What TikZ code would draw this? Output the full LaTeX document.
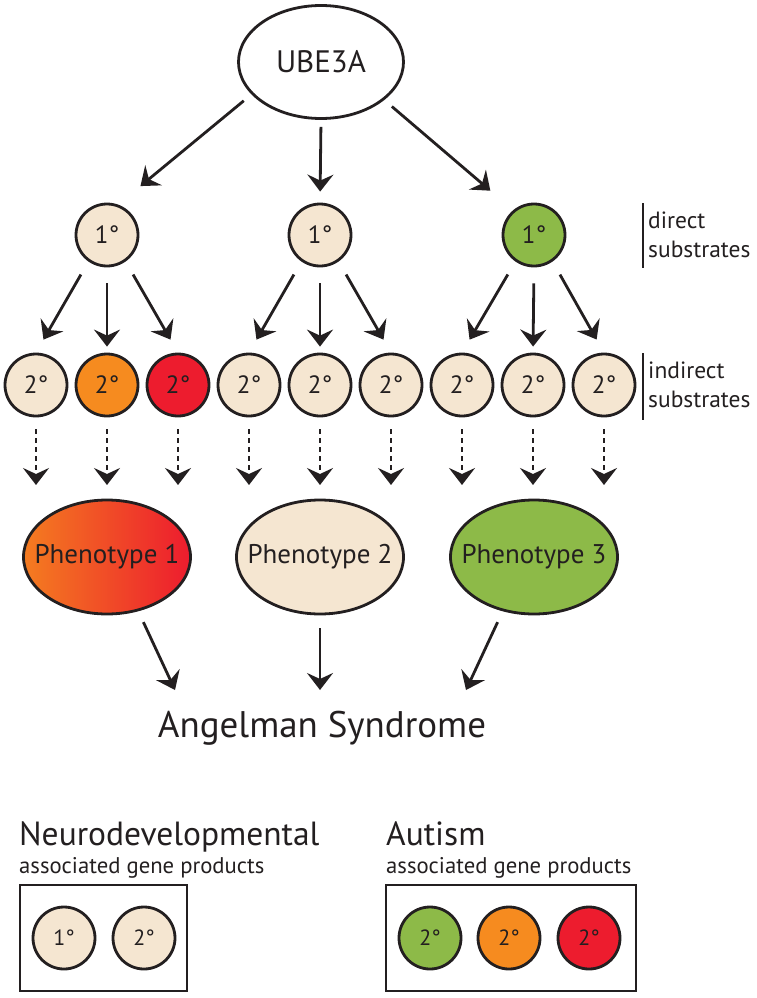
\documentclass[tikz,border=0pt]{standalone}
\usepackage{fontspec}
\setmainfont{PT Sans}
\usetikzlibrary{arrows.meta,shapes.geometric}
\definecolor{beige}{HTML}{F5E6D1}
\definecolor{orng}{HTML}{F68B1F}
\definecolor{rd}{HTML}{ED1C2E}
\definecolor{grn}{HTML}{8DBA48}
\definecolor{phorng}{HTML}{F47C20}
\definecolor{ink}{HTML}{231F20}
\tikzset{
  arr/.style={color=ink,line width=2.8pt,-{Stealth[length=17pt,width=26pt,inset=6pt]}},
  dasharr/.style={arr,dash pattern=on 5pt off 4pt},
  subst/.style={circle,draw=ink,line width=2.8pt,minimum size=62pt,inner sep=0pt,fill=beige,text=ink,font=\fontsize{25}{30}\selectfont},
  pheno/.style={ellipse,draw=ink,line width=2.8pt,minimum width=167pt,minimum height=114pt,inner xsep=-30pt,inner ysep=0pt,text=ink,font=\fontsize{27}{32}\selectfont},
  legtitle/.style={anchor=base west,inner sep=0pt,text=ink,font=\fontsize{33.5}{38}\selectfont},
  legsub/.style={anchor=base west,inner sep=0pt,text=ink,font=\fontsize{22.7}{27}\selectfont},
  sidelab/.style={anchor=north west,inner sep=0pt,align=left,text=ink,font=\fontsize{23.5}{29}\selectfont},
}
\begin{document}
\begin{tikzpicture}[x=1pt,y=-1pt]
\useasboundingbox (0,0) rectangle (756,998);
\node[ellipse,draw=ink,line width=2.8pt,minimum width=165pt,minimum height=113pt,text=ink,font=\fontsize{31}{36}\selectfont] (ube) at (321,62) {UBE3A};
\foreach \i/\x/\c in {1/107/beige,2/320/beige,3/534/grn}
	\node[subst,fill=\c] (pr\i) at (\x,235) {1°};
\foreach \i/\c in {1/beige,2/orng,3/rd,4/beige,5/beige,6/beige,7/beige,8/beige,9/beige}{
	\node[subst,fill=\c] (s\i) at ({36+71*(\i-1)},385) {2°};
	\coordinate (d\i) at ({36+71*(\i-1)},485);}
\node[pheno,left color=phorng,right color=rd] (ph1) at (107,557) {Phenotype 1};
\node[pheno,fill=beige] (ph2) at (320,557) {Phenotype 2};
\node[pheno,fill=grn] (ph3) at (534,557) {Phenotype 3};
\node[anchor=base,inner sep=0pt,text=ink,font=\fontsize{37}{42}\selectfont] (as) at (322,737) {Angelman Syndrome};
\coordinate (asl) at (175,690);
\coordinate (asm) at (320,690);
\coordinate (asr) at (466,690);
\draw[arr,shorten <=10pt,shorten >=29pt] (ube.205) -- (pr1.70);
\draw[arr,shorten <=7pt,shorten >=11pt] (ube.south) -- (pr2.north);
\draw[arr,shorten <=10pt,shorten >=30pt] (ube.329) -- (pr3.130);
\foreach \k in {1,2,3}{
	\pgfmathtruncatemacro{\a}{3*\k-2}
	\pgfmathtruncatemacro{\b}{3*\k-1}
	\pgfmathtruncatemacro{\c}{3*\k}
	\draw[arr,shorten <=15pt,shorten >=15pt] (pr\k.235) -- (s\a.north);
	\draw[arr,shorten <=16pt,shorten >=6pt] (pr\k.south) -- (s\b.north);
	\draw[arr,shorten <=15pt,shorten >=15pt] (pr\k.305) -- (s\c.north);}
\foreach \i in {1,...,9}
	\draw[dasharr,shorten <=12pt] (s\i.south) -- (d\i);
\draw[arr,shorten <=12pt] (ph1.300) -- (asl);
\draw[arr,shorten <=13pt] (ph2.south) -- (asm);
\draw[arr,shorten <=12pt] (ph3.240) -- (asr);
\draw[ink,line width=2.5pt] (643,203) -- (643,268);
\node[sidelab] (dir) at (648,212) {direct\\substrates};
\draw[ink,line width=2.5pt] (643,353) -- (643,420);
\node[sidelab] (indir) at (648,362) {indirect\\substrates};
\node[legtitle] (neuro) at (19,845) {Neurodevelopmental};
\node[legsub] (neurosub) at (19,873) {associated gene products};
\draw[ink,line width=2.8pt] (20,885) rectangle (187,991);
\node[subst,font=\fontsize{22}{26}\selectfont] (nl1) at (64,938) {1°};
\node[subst,font=\fontsize{22}{26}\selectfont] (nl2) at (144,938) {2°};
\node[legtitle] (aut) at (386,845) {Autism};
\node[legsub] (autsub) at (386,873) {associated gene products};
\draw[ink,line width=2.8pt] (386,885) rectangle (636,991);
\foreach \i/\x/\c in {1/430/grn,2/509/orng,3/589/rd}
	\node[subst,fill=\c,font=\fontsize{22}{26}\selectfont] (al\i) at (\x,938) {2°};
\end{tikzpicture}
\end{document}
